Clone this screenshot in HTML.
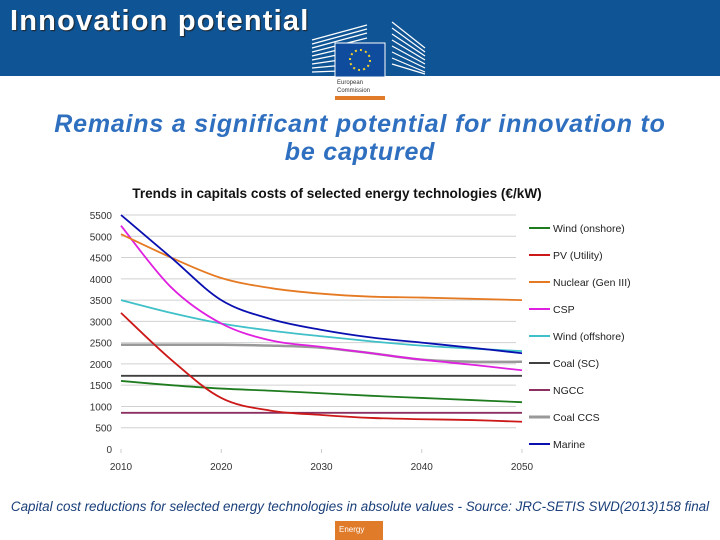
<!DOCTYPE html>
<html><head><meta charset="utf-8">
<style>
body{margin:0;width:720px;height:540px;overflow:hidden;background:#fff;font-family:"Liberation Sans",sans-serif;position:relative}
#banner{position:absolute;left:0;top:0;width:720px;height:76px;background:#0f5495}
#title{position:absolute;left:10px;top:5px;color:#fff;font-weight:bold;font-size:29px;letter-spacing:1.2px;text-shadow:1px 1px 1px #222}
#subtitle{position:absolute;left:0;width:720px;top:110px;text-align:center;color:#2f6fbf;font-style:italic;font-weight:bold;font-size:25px;letter-spacing:0.8px;line-height:28px}
#caption{position:absolute;left:0;width:720px;top:499px;text-align:center;color:#1a3f7a;font-style:italic;font-size:13.4px}
#energy{position:absolute;left:335px;top:521px;width:48px;height:19px;background:#e07b2a;color:#fff;font-size:8px;padding:4px 0 0 4px;box-sizing:border-box}
svg{position:absolute;left:0;top:0}
</style></head><body>
<div id="banner"></div>
<div id="title">Innovation potential</div>
<svg width="720" height="100">
<g stroke="#fff" stroke-width="1.2">
<line x1="312" y1="40" x2="367" y2="25"/><line x1="312" y1="44" x2="367" y2="29"/><line x1="312" y1="48" x2="367" y2="33"/><line x1="312" y1="52" x2="367" y2="38"/><line x1="312" y1="56" x2="367" y2="43"/><line x1="312" y1="60" x2="367" y2="49"/><line x1="312" y1="64" x2="367" y2="56"/><line x1="312" y1="68" x2="367" y2="63"/><line x1="312" y1="72" x2="367" y2="70"/>
<line x1="392" y1="22" x2="425" y2="48"/><line x1="392" y1="28" x2="425" y2="52"/><line x1="392" y1="34" x2="425" y2="56"/><line x1="392" y1="40" x2="425" y2="60"/><line x1="392" y1="46" x2="425" y2="64"/><line x1="392" y1="52" x2="425" y2="68"/><line x1="392" y1="58" x2="425" y2="72"/><line x1="392" y1="64" x2="425" y2="74"/>
</g>
<rect x="335" y="43" width="50" height="34" fill="#0f4c9e" stroke="#fff"/>
<circle cx="360" cy="60" r="10" fill="none" stroke="#f5d22b" stroke-width="2" stroke-dasharray="2 3.2"/>
<text x="337" y="84" font-size="6" fill="#333">European</text>
<text x="337" y="92" font-size="6" fill="#333">Commission</text>
<rect x="335" y="96" width="50" height="4" fill="#e07b2a"/>
</svg>
<div id="subtitle">Remains a significant potential for innovation to<br>be captured</div>
<svg id="chart" width="720" height="480"></svg>
<div id="caption">Capital cost reductions for selected energy technologies in absolute values - Source: JRC-SETIS SWD(2013)158 final</div>
<div id="energy">Energy</div>
<script>
const years=[2010,2015,2020,2025,2030,2035,2040,2045,2050];
const seriesNames=["Wind (onshore)","PV (Utility)","Nuclear (Gen III)","CSP","Wind (offshore)","Coal (SC)","NGCC","Coal CCS","Marine"];
const seriesColors=["#1e7b1e","#cc1818","#e67a22","#e020e0","#40c0c8","#404040","#8b3060","#999999","#0a10b0"];
const windOnshore=[1600,1500,1420,1370,1310,1250,1200,1150,1100];
const pvUtility=[3200,2100,1200,900,800,730,700,680,640];
const nuclear=[5050,4500,4020,3780,3650,3580,3560,3530,3500];
const csp=[5250,3800,2950,2550,2400,2250,2100,1980,1850];
const windOffshore=[3500,3200,2950,2780,2650,2530,2430,2360,2300];
const coalSC=[1720,1720,1720,1720,1720,1720,1720,1720,1720];
const ngcc=[850,850,850,850,850,850,850,850,850];
const coalCCS=[2450,2450,2450,2430,2380,2250,2100,2050,2050];
const marine=[5500,4500,3500,3050,2800,2620,2500,2380,2250];
const yTicks=[0,500,1000,1500,2000,2500,3000,3500,4000,4500,5000,5500];
const xTicks=[2010,2020,2030,2040,2050];
const allSeries=[windOnshore,pvUtility,nuclear,csp,windOffshore,coalSC,ngcc,coalCCS,marine];
const NS="http://www.w3.org/2000/svg";
const svg=document.getElementById('chart');
const xs=y=>121+(y-2010)*(401/40);
const ys=v=>449-v*(234/5500);
function el(t,a){const e=document.createElementNS(NS,t);for(const k in a)e.setAttribute(k,a[k]);svg.appendChild(e);return e;}
const tt=el('text',{x:337,y:198,'font-size':13.6,'font-weight':'bold','text-anchor':'middle',fill:'#111'});
tt.textContent="Trends in capitals costs of selected energy technologies (€/kW)";


yTicks.forEach(v=>{
 if(v>0){const g=el('line',{x1:121,x2:516,y1:ys(v),y2:ys(v),stroke:'#d0d0d0','stroke-width':1});
 
 }
 const t=el('text',{x:112,y:ys(v)+4,'font-size':10,'text-anchor':'end',fill:'#333'});t.textContent=v;
 
 
});
xTicks.forEach(v=>{
 el('line',{x1:xs(v),x2:xs(v),y1:449,y2:453,stroke:'#ccc'});
 const t=el('text',{x:xs(v),y:470,'font-size':10,'text-anchor':'middle',fill:'#333'});t.textContent=v;
 
 
});
function smooth(pts){let d=`M${pts[0][0]},${pts[0][1]}`;for(let i=0;i<pts.length-1;i++){const p0=pts[i-1]||pts[i],p1=pts[i],p2=pts[i+1],p3=pts[i+2]||p2;
 d+=` C${p1[0]+(p2[0]-p0[0])/6},${p1[1]+(p2[1]-p0[1])/6} ${p2[0]-(p3[0]-p1[0])/6},${p2[1]-(p3[1]-p1[1])/6} ${p2[0]},${p2[1]}`;}return d;}
const order=[7,5,6,0,1,4,3,2,8];
order.forEach(i=>{
 const pts=years.map((y,j)=>[xs(y),ys(allSeries[i][j])]);
 const p=el('path',{d:smooth(pts),fill:'none',stroke:seriesColors[i],'stroke-width':i==7?2.5:1.8});
 
 
});
seriesNames.forEach((n,i)=>{
 const y=228+i*27;
 const l=el('line',{x1:529,x2:550,y1:y,y2:y,stroke:seriesColors[i],'stroke-width':i==7?3:2});
 
 
 const t=el('text',{x:553,y:y+4,'font-size':10.5,fill:'#222'});t.textContent=n;
 
 
});
</script>
</body></html>
